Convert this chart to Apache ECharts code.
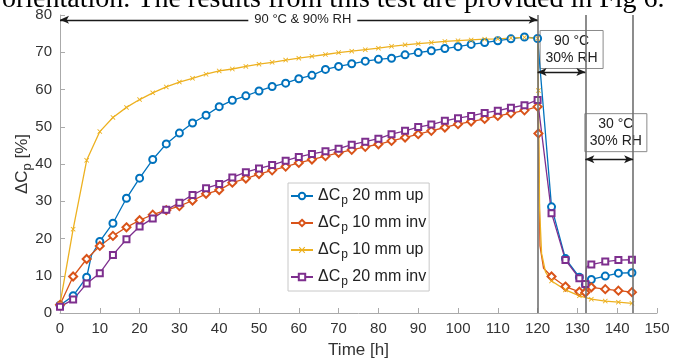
<!DOCTYPE html>
<html>
<head>
<meta charset="utf-8">
<script src="https://cdn.jsdelivr.net/npm/echarts@6/dist/echarts.min.js"></script>
<style>
  html, body { margin: 0; padding: 0; background: #fff; }
  #main { width: 673px; height: 362px; }
</style>
</head>
<body>
<div id="main"></div>
<script>
// marker times (h) during 90 °C & 90% RH
const tMain = [0, 3.3, 6.7, 10, 13.3, 16.7, 20, 23.3, 26.7, 30, 33.3, 36.7, 40, 43.3, 46.7, 50, 53.3, 56.7, 60,
  63.3, 66.7, 70, 73.3, 76.7, 80, 83.3, 86.7, 90, 93.3, 96.7, 100, 103.3, 106.7, 110, 113.3, 116.7, 120];
// marker times after the change of climate
const tPost = [123.5, 127, 130.5, 132, 133.5, 137, 140.3, 143.7];

const blueMain = [2.1, 4.6, 9.6, 19.2, 24.1, 30.8, 36.2, 41.2, 45.4, 48.3, 51.0, 53.1, 55.4, 57.1, 58.3, 59.6, 60.8,
  61.7, 62.9, 63.8, 65.4, 66.2, 66.9, 67.6, 68.1, 68.4, 69.3, 69.9, 70.4, 71.0, 71.5, 72.1, 72.6, 73.1, 73.6, 74.1, 73.7];
const bluePost = [28.5, 14.6, 9.6, 7.6, 9.0, 9.9, 10.7, 10.8];
const blueGapT = [7.9];
const blueGapV = [15.5];

const orangeMain = [2.2, 9.8, 14.5, 18, 20.7, 23, 24.9, 26.4, 27.6, 28.7, 30.2, 32, 33, 35, 36.1, 37.3, 38.3, 39.3,
  40.3, 41.2, 42.1, 43, 43.8, 44.6, 45.3, 46.2, 47.1, 48, 48.9, 49.8, 50.7, 51.4, 52.1, 52.9, 53.6, 54.4, 55.4];
const orangePostT = [120.2, 123.5, 127, 130.5, 132, 133.5, 137, 140.3, 143.7];
const orangePostV = [48.2, 9.8, 7.1, 5.7, 5.5, 6.9, 6.4, 6.0, 5.6];
const orangeGapT = [120.6, 121.5];
const orangeGapV = [18, 12];

const yellowMain = [2.4, 22.5, 41, 48.7, 52.5, 55.2, 57.3, 59.1, 60.7, 62, 63, 64.1, 65, 65.5, 66.2, 66.8, 67.3, 67.9,
  68.4, 68.9, 69.4, 69.9, 70.3, 70.7, 71.1, 71.6, 72, 72.3, 72.6, 72.9, 73.1, 73.3, 73.5, 73.6, 73.8, 74, 73.7];
const yellowPostT = [120.2, 123.5, 127, 130.5, 133.5, 137, 140.3, 143.7];
const yellowPostV = [59.7, 8.6, 6.2, 4.6, 3.7, 3.2, 2.9, 2.6];
const yellowGapT = [120.5, 121, 122];
const yellowGapV = [28, 16, 11];

const purpleMain = [1.7, 3.6, 7.9, 10.7, 15.6, 19.8, 23.2, 25.4, 27.7, 29.6, 31.7, 33.5, 34.6, 36.4, 37.8, 38.8, 39.7,
  40.9, 41.9, 42.7, 43.4, 44.1, 45.2, 46, 46.8, 48, 48.9, 49.9, 50.6, 51.6, 52.3, 52.9, 53.7, 54.3, 55.1, 55.8, 57.2];
const purplePost = [26.8, 14.2, 9.3, 7.8, 13.0, 13.8, 14.2, 14.3];
const purpleGapT = [132.3];
const purpleGapV = [12.4];

const seriesNames = ['20 mm up', '10 mm inv', '10 mm up', '20 mm inv'];
const phaseEdges = [120, 132, 144];
const phaseTexts = ['90 °C & 90% RH', '90 °C\n30% RH', '30 °C\n30% RH'];

const xTicks = { min: 0, max: 150, step: 10 };
const yTicks = { min: 0, max: 80, step: 10 };

function build(tm, vm, gt, gv, tp, vp) {
  const pts = [];
  tm.forEach((t, i) => pts.push({ value: [t, vm[i]] }));
  gt.forEach((t, i) => pts.push({ value: [t, gv[i]], symbol: 'none' }));
  tp.forEach((t, i) => pts.push({ value: [t, vp[i]] }));
  pts.sort((a, b) => a.value[0] - b.value[0]);
  return pts;
}

const FONT = 'Liberation Sans, Arial, sans-serif';
const xMark = 'path://M0,1.2L1.2,0L5,3.8L8.8,0L10,1.2L6.2,5L10,8.8L8.8,10L5,6.2L1.2,10L0,8.8L3.8,5Z';

const chart = echarts.init(document.getElementById('main'));

const option = {
  animation: false,
  textStyle: { fontFamily: FONT },
  grid: { left: 60, right: 16, top: 15, bottom: 49, outerBoundsMode: 'none' },
  legend: {
    orient: 'vertical',
    left: 288,
    top: 183,
    padding: [5, 3, 3, 2],
    itemGap: 8,
    itemWidth: 22,
    itemHeight: 8,
    borderColor: '#c8c8c8',
    borderWidth: 1,
    backgroundColor: '#fff',
    data: seriesNames,
    formatter: name => '{a|ΔC}{s|p}{a| ' + name + '}',
    textStyle: {
      rich: {
        a: { fontSize: 16, color: '#222', fontFamily: FONT },
        s: { fontSize: 12, color: '#222', fontFamily: FONT, padding: [10, 0, 0, 1] }
      }
    }
  },
  xAxis: {
    type: 'value',
    min: xTicks.min, max: xTicks.max, interval: xTicks.step,
    name: 'Time [h]',
    nameLocation: 'middle',
    nameGap: 29,
    nameMoveOverlap: false,
    nameTextStyle: { fontSize: 17, color: '#333' },
    axisLine: { lineStyle: { color: '#aaa' } },
    axisTick: { inside: true, length: 5, lineStyle: { color: '#aaa' } },
    axisLabel: { fontSize: 15, color: '#333', margin: 8 },
    splitLine: { show: false }
  },
  yAxis: {
    type: 'value',
    min: yTicks.min, max: yTicks.max, interval: yTicks.step,
    name: '{a|ΔC}{s|p}{a| [%]}',
    nameLocation: 'middle',
    nameGap: 26,
    nameRotate: 90,
    nameMoveOverlap: false,
    nameTextStyle: {
      rich: {
        a: { fontSize: 17, color: '#333', fontFamily: FONT },
        s: { fontSize: 13, color: '#333', fontFamily: FONT, padding: [11, 0, 0, 0] }
      }
    },
    axisLine: { show: true, lineStyle: { color: '#aaa' } },
    axisTick: { show: true, inside: true, length: 5, lineStyle: { color: '#aaa' } },
    axisLabel: { fontSize: 15, color: '#333', margin: 8 },
    splitLine: { show: false }
  },
  series: [
    {
      name: seriesNames[0], type: 'line',
      data: build(tMain, blueMain, blueGapT, blueGapV, tPost, bluePost),
      symbol: 'emptyCircle', symbolSize: 7,
      color: '#0072BD',
      lineStyle: { width: 1.3 },
      itemStyle: { borderWidth: 1.1 },
      markLine: {
        silent: true, symbol: 'none',
        label: { show: false },
        lineStyle: { color: '#707070', width: 1.6, type: 'solid' },
        data: phaseEdges.map(x => ({ xAxis: x }))
      }
    },
    {
      name: seriesNames[1], type: 'line',
      data: build(tMain, orangeMain, orangeGapT, orangeGapV, orangePostT, orangePostV),
      symbol: 'emptyDiamond', symbolSize: 8,
      color: '#D95319',
      lineStyle: { width: 1.3 },
      itemStyle: { borderWidth: 1.1 }
    },
    {
      name: seriesNames[2], type: 'line',
      data: build(tMain, yellowMain, yellowGapT, yellowGapV, yellowPostT, yellowPostV),
      symbol: xMark, symbolSize: 5,
      color: '#EDB120',
      lineStyle: { width: 1.3 }
    },
    {
      name: seriesNames[3], type: 'line',
      data: build(tMain, purpleMain, purpleGapT, purpleGapV, tPost, purplePost),
      symbol: 'emptyRect', symbolSize: 6,
      color: '#7E2F8E',
      lineStyle: { width: 1.3 },
      itemStyle: { borderWidth: 1.1 },
      markLine: {
        silent: true,
        symbol: ['arrow', 'arrow'],
        symbolSize: [6, 9],
        label: { show: false },
        lineStyle: { color: '#1a1a1a', width: 1.3, type: 'solid' },
        data: [
          [{ coord: [0, 78.7] }, { coord: [phaseEdges[0], 78.7] }],
          [{ coord: [phaseEdges[0], 64.7] }, { coord: [phaseEdges[1], 64.7] }],
          [{ coord: [phaseEdges[1], 41.3] }, { coord: [phaseEdges[2], 41.3] }]
        ]
      }
    }
  ]
};

chart.setOption(option);

// annotation boxes, placed from the axis scale
const p = (x, y) => chart.convertToPixel({ xAxisIndex: 0, yAxisIndex: 0 }, [x, y]);
const a1 = p(phaseEdges[0] / 2, 78.7);
const a2 = p(phaseEdges[0], 64.7);
const a3 = p(phaseEdges[1], 41.3);

function box(left, top, w, h, text) {
  return {
    type: 'group', left: left, top: top, z: 100,
    children: [
      { type: 'rect', shape: { x: 0, y: 0, width: w, height: h },
        style: { fill: '#fff', stroke: '#8a8a8a', lineWidth: 1 } },
      { type: 'text', x: w / 2, y: h / 2,
        style: { text: text, font: '14px ' + FONT, fill: '#222', align: 'center',
                 verticalAlign: 'middle', lineHeight: 17 } }
    ]
  };
}

chart.setOption({
  graphic: [
    {
      type: 'text', x: 2, y: -14, z: 100,
      style: { text: 'orientation. The results from this test are provided in Fig 6.',
               font: '28px "Liberation Serif", "Times New Roman", serif', fill: '#000',
               verticalAlign: 'top' }
    },
    {
      type: 'text', x: a1[0] + 4, y: a1[1], z: 100,
      style: { text: phaseTexts[0], font: '13px ' + FONT, fill: '#222', align: 'center',
               verticalAlign: 'middle', backgroundColor: '#fff', padding: [1, 6] }
    },
    box(a2[0] + 2, a2[1] - 42, 63, 38, phaseTexts[1]),
    box(a3[0] - 1, a3[1] - 46, 62, 38, phaseTexts[2])
  ]
});
</script>
</body>
</html>
